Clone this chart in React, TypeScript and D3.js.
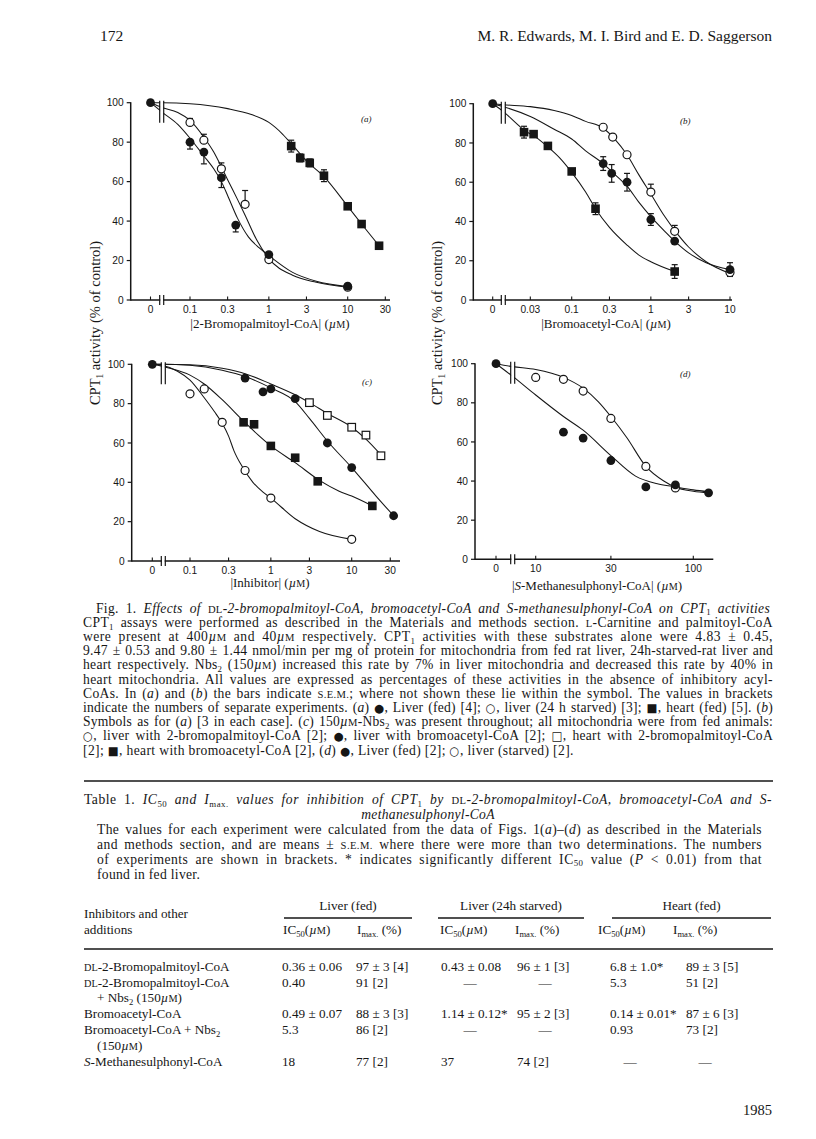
import React, { useEffect, useRef } from 'react';
import * as d3 from 'd3';

// ---------------- DATA ----------------
type Pt = { x: number; y: number; e?: number; d?: number };

const yTicks = [0, 20, 40, 60, 80, 100];
const aTicks = ['0', '0.1', '0.3', '1', '3', '10', '30'];
const bTicks = ['0', '0.03', '0.1', '0.3', '1', '3', '10'];
const cTicks = ['0', '0.1', '0.3', '1', '3', '10', '30'];
const dTicks = ['0', '10', '30', '100'];

// (a) 2-bromopalmitoyl-CoA
const aLiverFed: Pt[] = [
  { x: 0, y: 100 }, { x: 0.1, y: 80, e: 3.5, d: -1 }, { x: 0.15, y: 75, e: 6, d: -1 },
  { x: 0.25, y: 62, e: 5, d: -1 }, { x: 0.38, y: 38, e: 3.5, d: -1 }, { x: 1, y: 23 }, { x: 10, y: 7 },
];
const aLiverStarved: Pt[] = [
  { x: 0.1, y: 90, e: 2, d: 1 }, { x: 0.15, y: 81, e: 3, d: 1 }, { x: 0.25, y: 66.5, e: 3, d: 1 },
  { x: 0.5, y: 48.5, e: 7, d: 1 }, { x: 1, y: 20.5 }, { x: 10, y: 6.5 },
];
const aHeart: Pt[] = [
  { x: 1.92, y: 78, e: 3, d: 0 }, { x: 2.5, y: 72, e: 2, d: 0 }, { x: 3.3, y: 69.5, e: 2, d: 0 },
  { x: 5, y: 63, e: 3, d: 0 }, { x: 10, y: 47.5 }, { x: 15, y: 38.5 }, { x: 25, y: 27.5 },
];
const aLiverFedCurve: [number, number][] = [
  [0, 100], [0.045, 95], [0.07, 89], [0.1, 82], [0.15, 73], [0.2, 66.5], [0.25, 60], [0.3, 53],
  [0.4, 41.5], [0.55, 32], [0.75, 26.5], [1, 22.5], [2, 14], [4, 9.5], [10, 6.8],
];
const aLiverStarvedCurve: [number, number][] = [
  [0, 100], [0.045, 97.5], [0.07, 95], [0.1, 91], [0.15, 82.5], [0.2, 75], [0.25, 67.5], [0.3, 61],
  [0.4, 51], [0.5, 43], [0.7, 30.5], [1, 21], [2, 12.5], [4, 9], [10, 6.5],
];
const aHeartCurve: [number, number][] = [
  [0, 100], [0.045, 100], [0.1, 99.5], [0.3, 97], [0.6, 94], [1, 90], [1.5, 84], [2, 78.5],
  [3, 70.5], [5, 62.5], [10, 47.5], [15, 38.5], [25, 27.5],
];

// (b) bromoacetyl-CoA
const bLiverFed: Pt[] = [
  { x: 0, y: 100 }, { x: 0.25, y: 69.5, e: 3.5, d: 0 }, { x: 0.32, y: 64.5, e: 4.5, d: 0 },
  { x: 0.5, y: 60, e: 4.5, d: 0 }, { x: 1, y: 41, e: 3, d: 0 }, { x: 2, y: 30 }, { x: 10, y: 15.5, e: 3.5, d: 0 },
];
const bLiverStarved: Pt[] = [
  { x: 0.25, y: 88 }, { x: 0.33, y: 83 }, { x: 0.5, y: 74 }, { x: 1, y: 55, e: 4, d: 1 },
  { x: 2, y: 35, e: 3, d: 1 }, { x: 10, y: 14 },
];
const bHeart: Pt[] = [
  { x: 0.025, y: 85.5, e: 3, d: 0 }, { x: 0.033, y: 84.5 }, { x: 0.05, y: 78.5 }, { x: 0.1, y: 65.5 },
  { x: 0.2, y: 46.5, e: 3, d: 0 }, { x: 2, y: 14.5, e: 3.5, d: 0 },
];
const bLiverStarvedCurve: [number, number][] = [
  [0, 100], [0.0137, 99.5], [0.03, 98.5], [0.06, 96.5], [0.1, 94], [0.15, 91], [0.25, 87.5],
  [0.35, 82], [0.5, 74], [0.7, 64], [1, 54], [1.5, 42.5], [2, 35.5], [3, 27], [5, 19.5], [10, 13.5],
];
const bLiverFedCurve: [number, number][] = [
  [0, 100], [0.0137, 98.5], [0.03, 93.5], [0.06, 87], [0.1, 82], [0.15, 76], [0.25, 69.5],
  [0.35, 64], [0.5, 58], [0.7, 50], [1, 42.5], [1.5, 35], [2, 30], [3, 24], [5, 19], [10, 15.5],
];
const bHeartCurve: [number, number][] = [
  [0, 100], [0.0137, 96], [0.02, 90], [0.025, 86.5], [0.035, 83], [0.05, 78], [0.07, 72.5],
  [0.1, 65], [0.15, 55], [0.2, 46.5], [0.3, 37], [0.5, 28], [0.7, 23], [1, 19.5], [2, 14.5],
];

// (c) + Nbs2
const cLiverBP: Pt[] = [
  { x: 0.1, y: 85 }, { x: 0.15, y: 87.5 }, { x: 0.25, y: 70.5 }, { x: 0.48, y: 46 }, { x: 1, y: 32 }, { x: 10, y: 11 },
];
const cLiverBA: Pt[] = [
  { x: 0, y: 100 }, { x: 0.48, y: 93 }, { x: 0.8, y: 86 }, { x: 1, y: 87.5 }, { x: 2, y: 82.5 },
  { x: 5, y: 60 }, { x: 10, y: 47.5 }, { x: 33, y: 23 },
];
const cHeartBP: Pt[] = [
  { x: 3, y: 80.5 }, { x: 5, y: 74 }, { x: 10, y: 68 }, { x: 15, y: 64 }, { x: 23, y: 53.5 },
];
const cHeartBA: Pt[] = [
  { x: 0.46, y: 70.5 }, { x: 0.62, y: 69.5 }, { x: 1, y: 58.5 }, { x: 2, y: 52.5 }, { x: 3.8, y: 40.5 }, { x: 18, y: 28 },
];
const cLiverBPCurve: [number, number][] = [
  [0, 100], [0.045, 99.5], [0.07, 96.5], [0.1, 92], [0.15, 83], [0.2, 76], [0.25, 70], [0.3, 63.5],
  [0.35, 56], [0.45, 47.5], [0.6, 40], [0.8, 35], [1, 32], [2, 21.5], [4, 15], [10, 11],
];
const cLiverBACurve: [number, number][] = [
  [0, 100], [0.045, 100], [0.1, 99.5], [0.25, 97], [0.5, 93.5], [1, 88], [2, 81], [3, 72.5],
  [5, 61], [10, 47.5], [20, 33], [33, 23],
];
const cHeartBPCurve: [number, number][] = [
  [0, 100], [0.045, 100], [0.1, 99.8], [0.25, 98], [0.5, 95], [1, 90], [2, 84.5], [3, 80.5],
  [5, 75], [10, 68], [15, 62], [23, 54],
];
const cHeartBACurve: [number, number][] = [
  [0, 100], [0.045, 99], [0.1, 94.5], [0.15, 90], [0.25, 82], [0.45, 71.5], [0.7, 64], [1, 58.5],
  [2, 50], [4, 41], [7, 35.5], [10, 33], [18, 28],
];

// (d) S-methanesulphonyl-CoA
const dLiverFed: Pt[] = [
  { x: 0, y: 100 }, { x: 15, y: 65 }, { x: 20, y: 62 }, { x: 30, y: 50.5 }, { x: 50, y: 37 },
  { x: 77, y: 38 }, { x: 125, y: 34 },
];
const dLiverStarved: Pt[] = [
  { x: 10, y: 93 }, { x: 15, y: 92 }, { x: 20, y: 86 }, { x: 30, y: 72 }, { x: 50, y: 47.5 }, { x: 77, y: 36.5 },
];
const dLiverStarvedCurve: [number, number][] = [
  [0, 100], [7.15, 98.5], [10, 97], [15, 93], [20, 87.5], [25, 80.5], [30, 73], [38, 62],
  [50, 47.5], [65, 40], [77, 36.8], [100, 34.8], [125, 34],
];
const dLiverFedCurve: [number, number][] = [
  [0, 100], [7.15, 93.5], [10, 84], [15, 73], [20, 66], [30, 53], [43, 42.5], [60, 38.5],
  [77, 37], [100, 35.5], [125, 34.5],
];

// Caption & table text
const headerLeft = '172';
const headerRight = 'M. R. Edwards, M. I. Bird and E. D. Saggerson';
const yAxisTitle = 'CPT{b|1} activity (% of control)';
const captionLines = [
  'Fig. 1. {i|Effects of }{s|dl}{i|-2-bromopalmitoyl-CoA, bromoacetyl-CoA and S-methanesulphonyl-CoA on CPT}{b|1}{i| activities}',
  'CPT{b|1} assays were performed as described in the Materials and methods section. {s|l}-Carnitine and palmitoyl-CoA',
  'were present at 400{i|µ}{s|m} and 40{i|µ}{s|m} respectively. CPT{b|1} activities with these substrates alone were 4.83 ± 0.45,',
  '9.47 ± 0.53 and 9.80 ± 1.44 nmol/min per mg of protein for mitochondria from fed rat liver, 24h-starved-rat liver and',
  'heart respectively. Nbs{b|2} (150{i|µ}{s|m}) increased this rate by 7% in liver mitochondria and decreased this rate by 40% in',
  'heart mitochondria. All values are expressed as percentages of these activities in the absence of inhibitory acyl-',
  'CoAs. In ({i|a}) and ({i|b}) the bars indicate {s|s.e.m.}; where not shown these lie within the symbol. The values in brackets',
  'indicate the numbers of separate experiments. ({i|a}) {g|●}, Liver (fed) [4]; {g|○}, liver (24 h starved) [3]; {g|■}, heart (fed) [5]. ({i|b})',
  'Symbols as for ({i|a}) [3 in each case]. ({i|c}) 150{i|µ}{s|m}-Nbs{b|2} was present throughout; all mitochondria were from fed animals:',
  '{g|○}, liver with 2-bromopalmitoyl-CoA [2]; {g|●}, liver with bromoacetyl-CoA [2]; {g|□}, heart with 2-bromopalmitoyl-CoA',
  '[2]; {g|■}, heart with bromoacetyl-CoA [2], ({i|d}) {g|●}, Liver (fed) [2]; {g|○}, liver (starved) [2].',
];
const tableTitleLines = [
  'Table 1. {i|IC}{b|50}{i| and I}{b|max.}{i| values for inhibition of CPT}{b|1}{i| by }{s|dl}{i|-2-bromopalmitoyl-CoA, bromoacetyl-CoA and S-}',
  '{i|methanesulphonyl-CoA}',
];
const tableNoteLines = [
  'The values for each experiment were calculated from the data of Figs. 1({i|a})–({i|d}) as described in the Materials',
  'and methods section, and are means ± {s|s.e.m.} where there were more than two determinations. The numbers',
  'of experiments are shown in brackets. * indicates significantly different IC{b|50} value ({i|P} < 0.01) from that',
  'found in fed liver.',
];
const tableGroups = ['Liver (fed)', 'Liver (24h starved)', 'Heart (fed)'];
const tableSubHeads = ['IC{b|50}({i|µ}{s|m})', 'I{b|max.} (%)', 'IC{b|50}({i|µ}{s|m})', 'I{b|max.} (%)', 'IC{b|50}({i|µ}{s|m})', 'I{b|max.} (%)'];
const rowLabels = [
  '{s|dl}-2-Bromopalmitoyl-CoA', '{s|dl}-2-Bromopalmitoyl-CoA', '+ Nbs{b|2} (150{i|µ}{s|m})',
  'Bromoacetyl-CoA', 'Bromoacetyl-CoA + Nbs{b|2}', '(150{i|µ}{s|m})', '{i|S}-Methanesulphonyl-CoA',
];
const liverFedIC50 = ['0.36 ± 0.06', '0.40', '0.49 ± 0.07', '5.3', '18'];
const liverFedImax = ['97 ± 3 [4]', '91 [2]', '88 ± 3 [3]', '86 [2]', '77 [2]'];
const starvedIC50 = ['0.43 ± 0.08', '—', '1.14 ± 0.12*', '—', '37'];
const starvedImax = ['96 ± 1 [3]', '—', '95 ± 2 [3]', '—', '74 [2]'];
const heartIC50 = ['6.8 ± 1.0*', '5.3', '0.14 ± 0.01*', '0.93', '—'];
const heartImax = ['89 ± 3 [5]', '51 [2]', '87 ± 6 [3]', '73 [2]', '—'];
const pageNumber = '1985';

// ---------------- RENDER HELPERS ----------------
const SERIF = "'Liberation Serif', 'Times New Roman', 'DejaVu Serif', serif";
const SANS = "'Liberation Sans', Arial, Helvetica, sans-serif";
const INK = '#161616';

type Seg = { t: string; k: string };
function parse(s: string): Seg[] {
  const out: Seg[] = [];
  const re = /\{([isbg])\|([^}]*)\}/g;
  let last = 0;
  let m: RegExpExecArray | null;
  while ((m = re.exec(s))) {
    if (m.index > last) out.push({ t: s.slice(last, m.index), k: '' });
    out.push({ t: m[2], k: m[1] });
    last = re.lastIndex;
  }
  if (last < s.length) out.push({ t: s.slice(last), k: '' });
  return out;
}

function Rich(props: {
  s: string; x: number; y: number; size: number; anchor?: string; jw?: number;
  italic?: boolean; transform?: string; family?: string; ls?: number;
}) {
  const { s, x, y, size, anchor, jw, italic, transform, family, ls } = props;
  const segs = parse(s);
  let shifted = false;
  const shift = size * 0.22;
  return (
    <text x={x} y={y} fontSize={size} fontFamily={family || SERIF} fill={INK}
      textAnchor={anchor || 'start'} data-jw={jw} transform={transform}
      letterSpacing={ls} fontStyle={italic ? 'italic' : 'normal'}>
      {segs.map((g, i) => {
        let dy: number | undefined;
        if (g.k === 'b') { dy = shifted ? 0 : shift; shifted = true; }
        else if (shifted) { dy = -shift; shifted = false; }
        const fs = g.k === 'b' ? size * 0.65 : g.k === 's' ? size * 0.78 : g.k === 'g' ? size * 0.85 : undefined;
        const txt = g.k === 's' ? g.t.toUpperCase() : g.t;
        return (
          <tspan key={i} dy={dy} fontSize={fs} fontFamily={g.k === 'g' ? "'DejaVu Sans', sans-serif" : undefined}
            fontStyle={g.k === 'i' ? 'italic' : undefined}>{txt}</tspan>
        );
      })}
    </text>
  );
}

type Layout = {
  ax: number; yb: number; yt: number; zero: number; brk: number; end: number;
  d0: number; d1: number; r0: number; r1: number;
  label: string; lx: number; ly: number; title: string; tx: number; ty: number;
};
type Series = { pts: Pt[]; mark: 'fc' | 'oc' | 'fs' | 'os' };

function Panel({ L, ticks, series, curves }: { L: Layout; ticks: string[]; series: Series[]; curves: [number, number][][] }) {
  const y = d3.scaleLinear().domain([0, 100]).range([L.yb, L.yt]);
  const xl = d3.scaleLog().domain([L.d0, L.d1]).range([L.r0, L.r1]);
  const xp = (v: number) => (v === 0 ? L.zero : xl(v));
  const line = d3.line<[number, number]>().x(d => xp(d[0])).y(d => y(d[1])).curve(d3.curveMonotoneX);
  const r = 4.4;
  const sq = 8.6;
  return (
    <g>
      {curves.map((c, i) => (
        <path key={i} d={line(c) || ''} fill="none" stroke={INK} strokeWidth={1.05} />
      ))}
      <rect x={L.brk - 1.6} y={y(100) - 2} width={3.2} height={22} fill="white" />
      <line x1={L.brk - 2} x2={L.brk - 2} y1={y(100) - 2} y2={y(100) + 20} stroke={INK} strokeWidth={1.2} />
      <line x1={L.brk + 2} x2={L.brk + 2} y1={y(100) - 2} y2={y(100) + 20} stroke={INK} strokeWidth={1.2} />
      <line x1={L.ax} x2={L.ax} y1={L.yb + 0.7} y2={y(100) - 0.5} stroke={INK} strokeWidth={1.5} />
      <line x1={L.ax} x2={L.end} y1={L.yb} y2={L.yb} stroke={INK} strokeWidth={1.5} />
      <rect x={L.brk - 1.4} y={L.yb - 3} width={2.8} height={6} fill="white" />
      <line x1={L.brk - 2} x2={L.brk - 2} y1={L.yb - 5} y2={L.yb + 5} stroke={INK} strokeWidth={1.2} />
      <line x1={L.brk + 2} x2={L.brk + 2} y1={L.yb - 5} y2={L.yb + 5} stroke={INK} strokeWidth={1.2} />
      {yTicks.map(t => (
        <g key={t}>
          <line x1={L.ax - 4} x2={L.ax} y1={y(t)} y2={y(t)} stroke={INK} strokeWidth={1.2} />
          <text x={L.ax - 7} y={y(t) + 3.6} fontSize={10.2} fontFamily={SANS} textAnchor="end" fill={INK}>{t}</text>
        </g>
      ))}
      {ticks.map(t => {
        const px = xp(parseFloat(t));
        return (
          <g key={t}>
            <line x1={px} x2={px} y1={L.yb} y2={L.yb - 3.5} stroke={INK} strokeWidth={1.1} />
            <text x={px} y={L.yb + 13} fontSize={10.2} fontFamily={SANS} textAnchor="middle" fill={INK}>{t}</text>
          </g>
        );
      })}
      {series.map((s, si) => s.pts.filter(p => p.e).map((p, i) => {
        const cx = xp(p.x);
        const up = p.d === 1 || p.d === 0;
        const dn = p.d === -1 || p.d === 0;
        const yU = y(p.y + (p.e as number));
        const yD = y(p.y - (p.e as number));
        return (
          <g key={`e${si}-${i}`} stroke={INK} strokeWidth={1.2}>
            {up && <line x1={cx} x2={cx} y1={y(p.y)} y2={yU} />}
            {up && <line x1={cx - 3} x2={cx + 3} y1={yU} y2={yU} />}
            {dn && <line x1={cx} x2={cx} y1={y(p.y)} y2={yD} />}
            {dn && <line x1={cx - 3} x2={cx + 3} y1={yD} y2={yD} />}
          </g>
        );
      }))}
      {series.map((s, si) => s.pts.map((p, i) => {
        const cx = xp(p.x);
        const cy = y(p.y);
        const k = `m${si}-${i}`;
        if (s.mark === 'fc') return <circle key={k} cx={cx} cy={cy} r={r} fill={INK} />;
        if (s.mark === 'oc') return <circle key={k} cx={cx} cy={cy} r={r - 0.4} fill="white" stroke={INK} strokeWidth={1.2} />;
        if (s.mark === 'fs') return <rect key={k} x={cx - sq / 2} y={cy - sq / 2} width={sq} height={sq} fill={INK} />;
        return <rect key={k} x={cx - sq / 2 + 0.5} y={cy - sq / 2 + 0.5} width={sq - 1} height={sq - 1} fill="white" stroke={INK} strokeWidth={1.2} />;
      }))}
      <text x={L.lx} y={L.ly} fontSize={9} fontFamily={SERIF} fontStyle="italic" fill={INK}>{L.label}</text>
      <Rich s={L.title} x={L.tx} y={L.ty} size={13} anchor="middle" />
    </g>
  );
}

const LA: Layout = { ax: 130.7, yb: 300, yt: 102.7, zero: 150.5, brk: 161.7, end: 390, d0: 0.1, d1: 10, r0: 190, r1: 347.7, label: '(a)', lx: 361, ly: 122, title: '|2-Bromopalmitoyl-CoA| ({i|µ}{s|m})', tx: 270, ty: 327.5 };
const LB: Layout = { ax: 473.3, yb: 300, yt: 103.7, zero: 492.7, brk: 503.3, end: 732, d0: 0.1, d1: 10, r0: 571.7, r1: 730, label: '(b)', lx: 680, ly: 124, title: '|Bromoacetyl-CoA| ({i|µ}{s|m})', tx: 606, ty: 327.5 };
const LC: Layout = { ax: 131.7, yb: 561, yt: 364.3, zero: 152.3, brk: 163.3, end: 400, d0: 0.1, d1: 10, r0: 190, r1: 351.7, label: '(c)', lx: 362, ly: 385, title: '|Inhibitor| ({i|µ}{s|m})', tx: 270, ty: 586.5 };
const LD: Layout = { ax: 475, yb: 559.3, yt: 363.7, zero: 496, brk: 512.7, end: 713.3, d0: 10, d1: 100, r0: 535.7, r1: 693.3, label: '(d)', lx: 680, ly: 377, title: '|{i|S}-Methanesulphonyl-CoA| ({i|µ}{s|m})', tx: 597, ty: 589.5 };

export default function App() {
  const ref = useRef<SVGSVGElement>(null);
  useEffect(() => {
    const svg = ref.current;
    if (!svg) return;
    svg.querySelectorAll('text[data-jw]').forEach(node => {
      const el = node as SVGTextElement;
      const target = parseFloat(el.getAttribute('data-jw') || '0');
      if (!target) return;
      const txt = el.textContent || '';
      el.style.wordSpacing = '0px';
      let len = el.getComputedTextLength();
      const surplus = target - len;
      if (surplus > 0) {
        const lsp = Math.min((surplus * 0.5) / txt.length, 0.55);
        el.style.letterSpacing = `${lsp}px`;
        len = el.getComputedTextLength();
      }
      const spaces = txt.split(' ').length - 1;
      if (spaces > 0) el.style.wordSpacing = `${(target - len) / spaces}px`;
    });
  }, []);

  const capSize = 13.6;
  const capY0 = 612.5;
  const capDy = 14.2;
  const tabSize = 13.2;
  const rowYs = [971, 986.5, 1002, 1018, 1034, 1050, 1066];
  const mainRows = [0, 1, 3, 4, 6];
  const cols: { vals: string[]; x: number; dash: number }[] = [
    { vals: liverFedIC50, x: 282, dash: 300 },
    { vals: liverFedImax, x: 356, dash: 372 },
    { vals: starvedIC50, x: 441, dash: 470 },
    { vals: starvedImax, x: 517, dash: 545 },
    { vals: heartIC50, x: 610, dash: 630 },
    { vals: heartImax, x: 686, dash: 705 },
  ];
  const subHeadX = [283, 357, 440, 515, 598, 673];
  const groupSpans = [[284, 412], [438, 584], [612, 771]];

  return (
    <svg ref={ref} width={816} height={1139} style={{ position: 'absolute', left: 0, top: 0 }}>
      <rect x={0} y={0} width={816} height={1139} fill="white" />
      <text x={100} y={41} fontSize={15.5} fontFamily={SERIF} fill={INK}>{headerLeft}</text>
      <text x={772} y={41} fontSize={15.5} fontFamily={SERIF} fill={INK} textAnchor="end">{headerRight}</text>

      <Panel L={LA} ticks={aTicks}
        curves={[aLiverFedCurve, aLiverStarvedCurve, aHeartCurve]}
        series={[{ pts: aHeart, mark: 'fs' }, { pts: aLiverStarved, mark: 'oc' }, { pts: aLiverFed, mark: 'fc' }]} />
      <Panel L={LB} ticks={bTicks}
        curves={[bLiverFedCurve, bLiverStarvedCurve, bHeartCurve]}
        series={[{ pts: bHeart, mark: 'fs' }, { pts: bLiverStarved, mark: 'oc' }, { pts: bLiverFed, mark: 'fc' }]} />
      <Panel L={LC} ticks={cTicks}
        curves={[cLiverBPCurve, cLiverBACurve, cHeartBPCurve, cHeartBACurve]}
        series={[{ pts: cHeartBP, mark: 'os' }, { pts: cHeartBA, mark: 'fs' }, { pts: cLiverBP, mark: 'oc' }, { pts: cLiverBA, mark: 'fc' }]} />
      <Panel L={LD} ticks={dTicks}
        curves={[dLiverFedCurve, dLiverStarvedCurve]}
        series={[{ pts: dLiverStarved, mark: 'oc' }, { pts: dLiverFed, mark: 'fc' }]} />

      <Rich s={yAxisTitle} x={0} y={0} size={14.5} anchor="middle" transform="translate(100,323) rotate(-90)" />
      <Rich s={yAxisTitle} x={0} y={0} size={14.5} anchor="middle" transform="translate(442,323) rotate(-90)" />

      {captionLines.map((l, i) => (
        <Rich key={i} s={l} x={i === 0 ? 96 : 83} y={capY0 + i * capDy} size={capSize}
          ls={i === captionLines.length - 1 ? 0.35 : undefined}
          jw={i === captionLines.length - 1 ? undefined : (i === 0 ? 770 - 96 : 773 - 83)} />
      ))}

      <line x1={84} x2={773} y1={781} y2={781} stroke={INK} strokeWidth={1.6} />
      <Rich s={tableTitleLines[0]} x={84} y={804} size={capSize} jw={772 - 84} />
      <Rich s={tableTitleLines[1]} x={428} y={818.5} size={capSize} anchor="middle" ls={0.3} />
      {tableNoteLines.map((l, i) => (
        <Rich key={i} s={l} x={97} y={833.5 + i * 15} size={capSize} ls={i === tableNoteLines.length - 1 ? 0.3 : undefined}
          jw={i === tableNoteLines.length - 1 ? undefined : 762 - 97} />
      ))}

      {tableGroups.map((g, i) => (
        <text key={g} x={(groupSpans[i][0] + groupSpans[i][1]) / 2} y={910} fontSize={tabSize}
          fontFamily={SERIF} fill={INK} textAnchor="middle">{g}</text>
      ))}
      {groupSpans.map((s, i) => (
        <line key={i} x1={s[0]} x2={s[1]} y1={918} y2={918} stroke={INK} strokeWidth={1.3} />
      ))}
      <text x={84} y={918} fontSize={tabSize} fontFamily={SERIF} fill={INK}>Inhibitors and other</text>
      <text x={84} y={934} fontSize={tabSize} fontFamily={SERIF} fill={INK}>additions</text>
      {tableSubHeads.map((h, i) => (
        <Rich key={i} s={h} x={subHeadX[i]} y={934} size={tabSize} />
      ))}
      <line x1={84} x2={773} y1={949} y2={949} stroke={INK} strokeWidth={1.6} />

      {rowLabels.map((l, i) => (
        <Rich key={i} s={l} x={i === 2 || i === 5 ? 97 : 84} y={rowYs[i]} size={tabSize} />
      ))}
      {cols.map((c, ci) => c.vals.map((v, vi) => (
        v === '—'
          ? <text key={`${ci}-${vi}`} x={c.dash} y={rowYs[mainRows[vi]]} fontSize={tabSize} fontFamily={SERIF}
              fill={INK} textAnchor="middle">{v}</text>
          : <text key={`${ci}-${vi}`} x={c.x} y={rowYs[mainRows[vi]]} fontSize={tabSize} fontFamily={SERIF}
              fill={INK}>{v}</text>
      )))}

      <text x={772} y={1115} fontSize={14.5} fontFamily={SERIF} fill={INK} textAnchor="end">{pageNumber}</text>
    </svg>
  );
}
